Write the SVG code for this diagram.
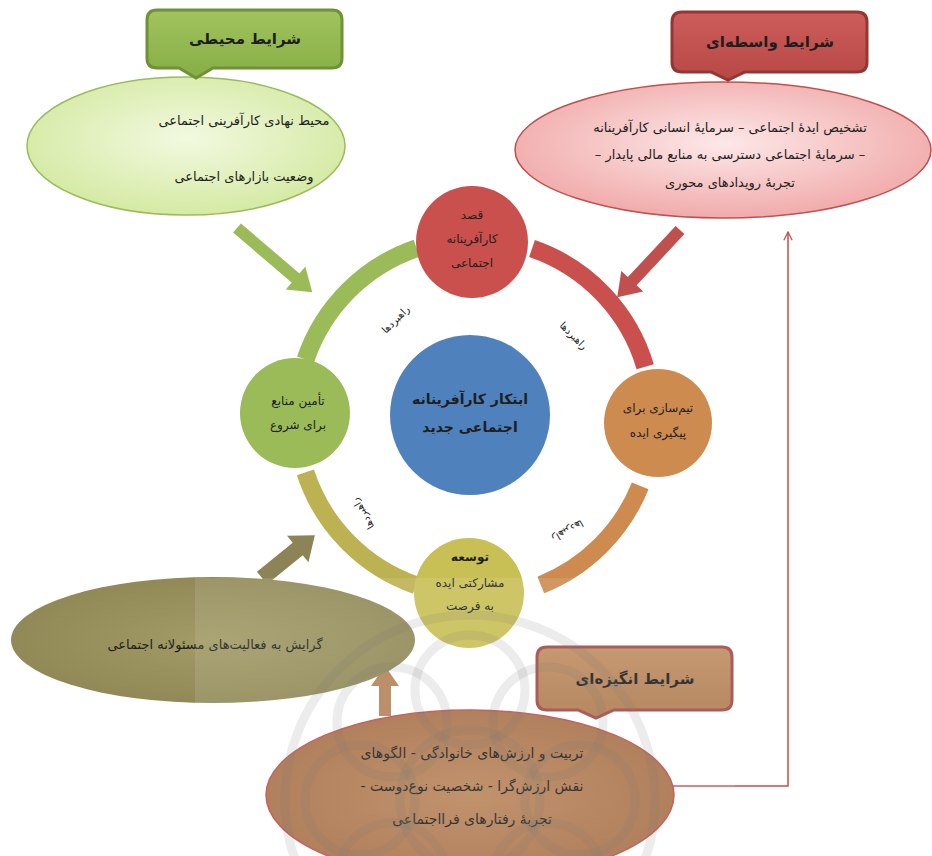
<svg xmlns="http://www.w3.org/2000/svg" width="932" height="856" viewBox="0 0 932 856">
<defs>
<radialGradient id="gGreen" cx="50%" cy="45%" r="55%"><stop offset="0" stop-color="#F2F9E0"/><stop offset="1" stop-color="#D5EAA4"/></radialGradient>
<radialGradient id="gRed" cx="50%" cy="45%" r="55%"><stop offset="0" stop-color="#FDE8E8"/><stop offset="1" stop-color="#F1ABAB"/></radialGradient>
<radialGradient id="gOlive" cx="50%" cy="50%" r="55%"><stop offset="0" stop-color="#A29B66"/><stop offset="1" stop-color="#8F8856"/></radialGradient>
<radialGradient id="gBrown" cx="50%" cy="50%" r="55%"><stop offset="0" stop-color="#BA875C"/><stop offset="1" stop-color="#A7704A"/></radialGradient>
<linearGradient id="bGreen" x1="0" y1="0" x2="0" y2="1"><stop offset="0" stop-color="#A2C35E"/><stop offset="1" stop-color="#86AE45"/></linearGradient>
<linearGradient id="bRed" x1="0" y1="0" x2="0" y2="1"><stop offset="0" stop-color="#CC5D5A"/><stop offset="1" stop-color="#B84845"/></linearGradient>
<linearGradient id="bBrown" x1="0" y1="0" x2="0" y2="1"><stop offset="0" stop-color="#C08E62"/><stop offset="1" stop-color="#AE7A50"/></linearGradient>
<marker id="openArrow" viewBox="0 0 12 12" refX="11" refY="6" markerWidth="10" markerHeight="10" orient="auto" markerUnits="userSpaceOnUse"><path d="M1,1 L11,6 L1,11" fill="none" stroke="#C0504D" stroke-width="1.5"/></marker>
</defs>
<style>
text{font-family:"DejaVu Sans","Noto Sans",sans-serif;fill:#1E1E1E;text-anchor:middle;direction:rtl}
.t{font-size:12px}
.e{font-size:13px}
.eb{font-size:14px}
.tb{font-size:14px;font-weight:bold}
.title{font-size:15px;font-weight:bold}
.lbl{font-size:10px}
.arc{fill:none;stroke-width:18}
</style>
<rect width="932" height="856" fill="#FFFFFF"/>

<g id="connectors">
<path class="arc" d="M 305.6 359.4 A 178 178 0 0 1 416.6 248.2" stroke="#9BBB59"/>
<path class="arc" d="M 532.0 248.6 A 178 178 0 0 1 645.2 366.7" stroke="#C9504D"/>
<path class="arc" d="M 640.2 485.8 A 178 178 0 0 1 540.8 585.0" stroke="#CD8B4F"/>
<path class="arc" d="M 416.0 585.3 A 178 178 0 0 1 305.4 472.4" stroke="#BDB252"/>
<g fill="#9BBB59" transform="translate(237,228) rotate(40.5)"><path d="M0,-6 L77,-6 L77,-15 L99,0 L77,15 L77,6 L0,6 Z"/></g>
<g fill="#C0504D" transform="translate(680,230) rotate(133)"><path d="M0,-6 L70,-6 L70,-15 L92,0 L70,15 L70,6 L0,6 Z"/></g>
<g fill="#8C8456" transform="translate(262,578) rotate(-39)"><path d="M0,-8 L46,-8 L46,-17 L68,0 L46,17 L46,8 L0,8 Z"/></g>
<g fill="#B5825A" transform="translate(385,716) rotate(-90)"><path d="M0,-6 L30,-6 L30,-14 L50,0 L30,14 L30,6 L0,6 Z"/></g>
<path d="M671,786 L788,786 L788,232" fill="none" stroke="#C0504D" stroke-width="1.5" marker-end="url(#openArrow)"/>
<text class="lbl" transform="translate(398,322) rotate(-45)">راهبردها</text>
<text class="lbl" transform="translate(571,338) rotate(45)">راهبردها</text>
<text class="lbl" transform="translate(366,512) rotate(240)">راهبردها</text>
<text class="lbl" transform="translate(566,528) rotate(150)">راهبردها</text>
</g>

<g id="env-ellipse">
<ellipse cx="186" cy="146" rx="159" ry="69" fill="url(#gGreen)" stroke="#9BBB59" stroke-width="1.5"/>
<text class="e" x="244" y="125">محیط نهادی کارآفرینی اجتماعی</text>
<text class="e" x="244" y="181">وضعیت بازارهای اجتماعی</text>
</g>
<g id="env-title">
<path d="M157,10 H332 Q342,10 342,20 V58 Q342,68 332,68 H213 L196,78 L179,68 H157 Q147,68 147,58 V20 Q147,10 157,10 Z" fill="url(#bGreen)" stroke="#6F9236" stroke-width="3"/>
<text class="title" x="245" y="44">شرایط محیطی</text>
</g>

<g id="med-ellipse">
<ellipse cx="723" cy="150" rx="208" ry="68" fill="url(#gRed)" stroke="#C0504D" stroke-width="1.5"/>
<text class="e" x="730" y="132">تشخیص ایدهٔ اجتماعی – سرمایهٔ انسانی کارآفرینانه</text>
<text class="e" x="730" y="159">– سرمایهٔ اجتماعی دسترسی به منابع مالی پایدار –</text>
<text class="e" x="730" y="187">تجربهٔ رویدادهای محوری</text>
</g>
<g id="med-title">
<path d="M682,12 H857 Q867,12 867,22 V62 Q867,72 857,72 H745 L728,80 L711,72 H682 Q672,72 672,62 V22 Q672,12 682,12 Z" fill="url(#bRed)" stroke="#943634" stroke-width="3"/>
<text class="title" x="770" y="47">شرایط واسطه‌ای</text>
</g>

<g id="node-intent">
<circle cx="472" cy="242" r="56" fill="#C9504D"/>
<text class="t" x="472" y="219">قصد</text>
<text class="t" x="472" y="243">کارآفرینانه</text>
<text class="t" x="472" y="267">اجتماعی</text>
</g>
<g id="node-resources">
<circle cx="295" cy="413" r="55" fill="#9BBB59"/>
<text class="t" x="298" y="405">تأمین منابع</text>
<text class="t" x="298" y="429">برای شروع</text>
</g>
<g id="node-team">
<circle cx="658" cy="423" r="54" fill="#CD8B4F"/>
<text class="t" x="658" y="412">تیم‌سازی برای</text>
<text class="t" x="658" y="437">پیگیری ایده</text>
</g>
<g id="node-dev">
<circle cx="469" cy="593" r="55" fill="#C8BF55"/>
<text class="t" x="470" y="561" style="font-weight:bold">توسعه</text>
<text class="t" x="470" y="587">مشارکتی ایده</text>
<text class="t" x="470" y="610">به فرصت</text>
</g>
<g id="node-center">
<circle cx="470" cy="415" r="80" fill="#4F81BD"/>
<text class="tb" x="470" y="404">ابتکار کارآفرینانه</text>
<text class="tb" x="470" y="432">اجتماعی جدید</text>
</g>

<g id="attitude-ellipse">
<ellipse cx="213" cy="640" rx="202" ry="63" fill="url(#gOlive)"/>
<text class="e" x="215" y="649">گرایش به فعالیت‌های مسئولانه اجتماعی</text>
</g>

<g id="motive-ellipse">
<ellipse cx="470" cy="795" rx="204" ry="85" fill="url(#gBrown)" stroke="#C0504D" stroke-width="1.5"/>
<text class="eb" x="472" y="758">تربیت و ارزش‌های خانوادگی - الگوهای</text>
<text class="eb" x="472" y="791">نقش ارزش‌گرا - شخصیت نوع‌دوست -</text>
<text class="eb" x="472" y="824">تجربهٔ رفتارهای فرااجتماعی</text>
</g>
<g id="motive-title">
<path d="M547,647 H722 Q732,647 732,657 V700 Q732,710 722,710 H614 L596,718 L578,710 H547 Q537,710 537,700 V657 Q537,647 547,647 Z" fill="url(#bBrown)" stroke="#A24A47" stroke-width="3"/>
<text class="title" x="635" y="684">شرایط انگیزه‌ای</text>
</g>

<g id="watermark" fill="none" stroke="#7A7A7A" stroke-opacity="0.14" stroke-width="9">
<rect x="195" y="578" width="540" height="278" fill="#FFFFFF" fill-opacity="0.1" stroke="none"/>
<circle cx="470" cy="800" r="185"/>
<circle cx="470" cy="690" r="55"/>
<circle cx="548" cy="722" r="55"/>
<circle cx="580" cy="800" r="55"/>
<circle cx="548" cy="878" r="55"/>
<circle cx="392" cy="722" r="55"/>
<circle cx="360" cy="800" r="55"/>
<circle cx="392" cy="878" r="55"/>
<circle cx="470" cy="800" r="70"/>
</g>
</svg>
